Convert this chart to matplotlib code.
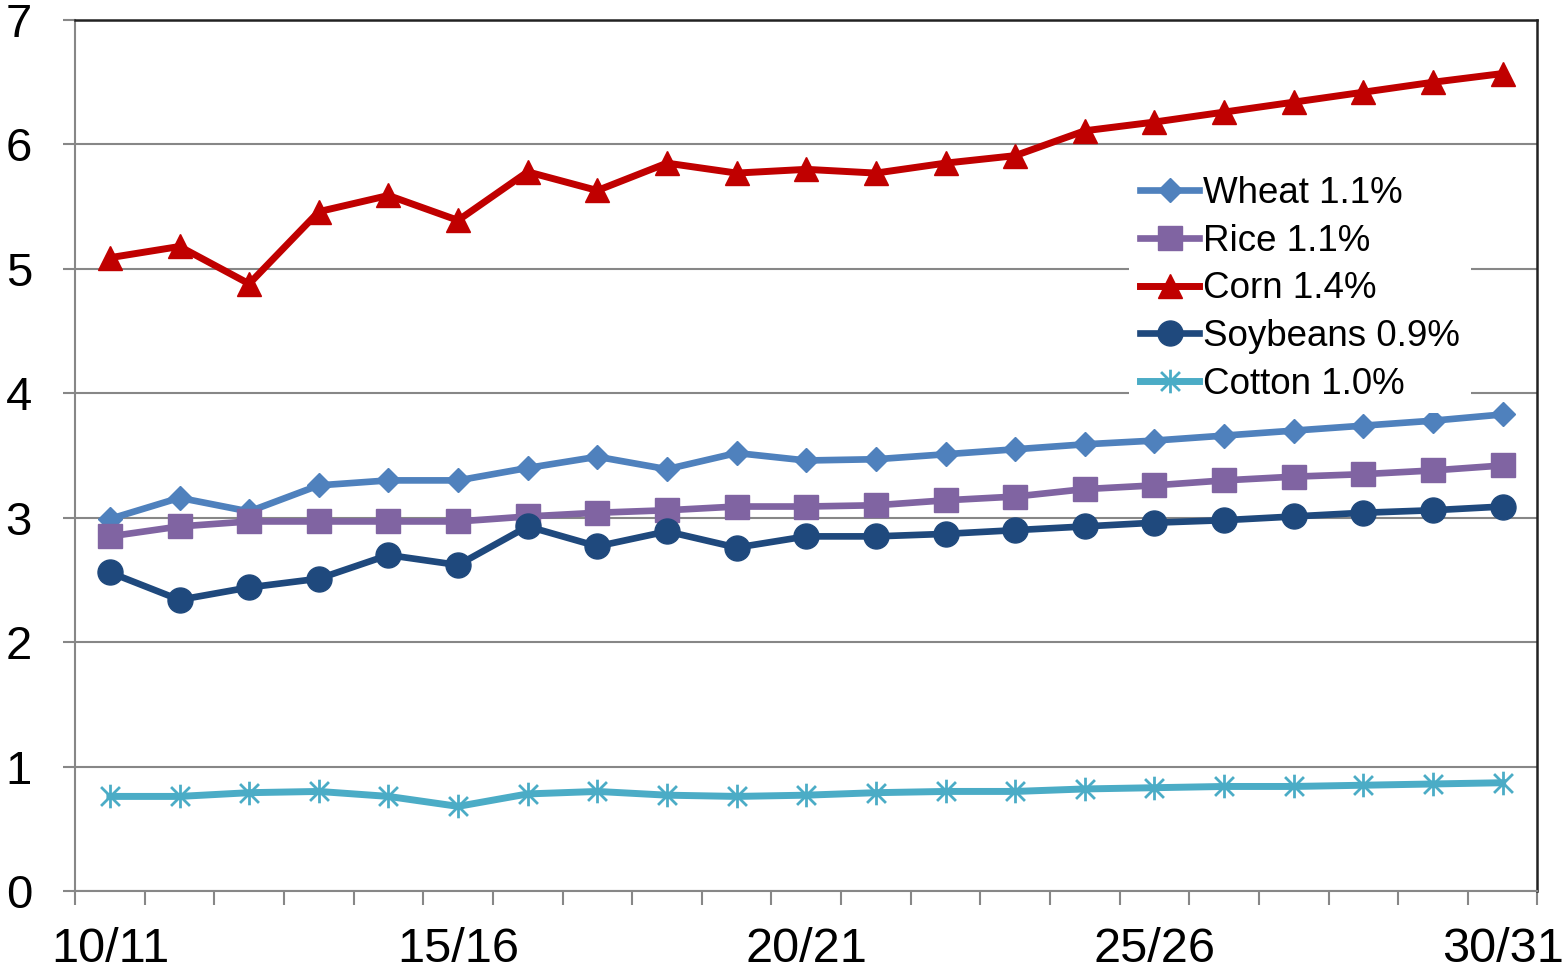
import matplotlib
matplotlib.use("Agg")
import matplotlib.pyplot as plt
from matplotlib.path import Path

plt.rcParams['font.family'] = ['Liberation Sans', 'DejaVu Sans']

# Marketing years 10/11 .. 30/31
years = [f"{y:02d}/{y + 1:02d}" for y in range(10, 31)]
label_years = ["10/11", "15/16", "20/21", "25/26", "30/31"]

wheat = [2.99, 3.16, 3.05, 3.26, 3.30, 3.30, 3.40, 3.49, 3.39, 3.52, 3.46,
         3.47, 3.51, 3.55, 3.59, 3.62, 3.66, 3.70, 3.74, 3.78, 3.83]
rice = [2.85, 2.93, 2.97, 2.97, 2.97, 2.97, 3.01, 3.04, 3.06, 3.09, 3.09,
        3.10, 3.14, 3.17, 3.23, 3.26, 3.30, 3.33, 3.35, 3.38, 3.42]
corn = [5.09, 5.18, 4.88, 5.46, 5.59, 5.39, 5.78, 5.63, 5.85, 5.77, 5.80,
        5.77, 5.85, 5.91, 6.11, 6.18, 6.26, 6.34, 6.42, 6.50, 6.57]
soybeans = [2.56, 2.34, 2.44, 2.51, 2.70, 2.62, 2.93, 2.77, 2.89, 2.76, 2.85,
            2.85, 2.87, 2.90, 2.93, 2.96, 2.98, 3.01, 3.04, 3.06, 3.09]
cotton = [0.76, 0.76, 0.79, 0.80, 0.76, 0.68, 0.78, 0.80, 0.77, 0.76, 0.77,
          0.79, 0.80, 0.80, 0.82, 0.83, 0.84, 0.84, 0.85, 0.86, 0.87]

x = list(range(len(years)))

# Excel-style star marker: an X plus a vertical stroke
star = Path([(-1, -1), (1, 1), (-1, 1), (1, -1), (0, -1.25), (0, 1.25)],
            [Path.MOVETO, Path.LINETO, Path.MOVETO, Path.LINETO, Path.MOVETO, Path.LINETO])

fig = plt.figure(figsize=(15.64, 9.73), dpi=100)
ax = fig.add_axes([0.048, 0.0843, 0.935, 0.8951])

ax.plot(x, wheat, color='#4F81BD', lw=4.8, marker='D', ms=12, label='Wheat 1.1%')
ax.plot(x, rice, color='#8064A2', lw=4.8, marker='s', ms=17, label='Rice 1.1%')
ax.plot(x, corn, color='#C00000', lw=5, marker='^', ms=17, label='Corn 1.4%')
ax.plot(x, soybeans, color='#1F497D', lw=4.8, marker='o', ms=18, label='Soybeans 0.9%')
ax.plot(x, cotton, color='#4BACC6', lw=5, marker=star, ms=17, mew=2,
        mfc='none', mec='#4BACC6', label='Cotton 1.0%')

ax.set_xlim(-0.5, len(years) - 0.5)
ax.set_ylim(0, 7)

grid_c = '#878787'
ax.yaxis.grid(True, color=grid_c, lw=1.5)
ax.set_axisbelow(True)
for s in ['top', 'right']:
    ax.spines[s].set_color('#222222')
    ax.spines[s].set_linewidth(1.8)
for s in ['left', 'bottom']:
    ax.spines[s].set_color(grid_c)
    ax.spines[s].set_linewidth(1.5)

ax.set_yticks(range(0, 8))
ax.tick_params(axis='y', length=9, width=1.5, color=grid_c, pad=22, labelsize=34)

ax.set_xticks([years.index(y) for y in label_years])
ax.set_xticklabels(label_years)
ax.set_xticks([i - 0.5 for i in range(len(years) + 1)], minor=True)
ax.tick_params(axis='x', which='major', length=0, pad=26, labelsize=35)
ax.tick_params(axis='x', which='minor', length=10, width=1.5, color=grid_c)

leg = ax.legend(loc='upper left', bbox_to_anchor=(0.721, 0.834), fontsize=26.5,
                frameon=True, facecolor='white', edgecolor='none', framealpha=1,
                fancybox=False, handlelength=1.6, handletextpad=0.1,
                labelspacing=0.35, borderpad=0.3, borderaxespad=0)

fig.savefig('out.png', dpi=100)
